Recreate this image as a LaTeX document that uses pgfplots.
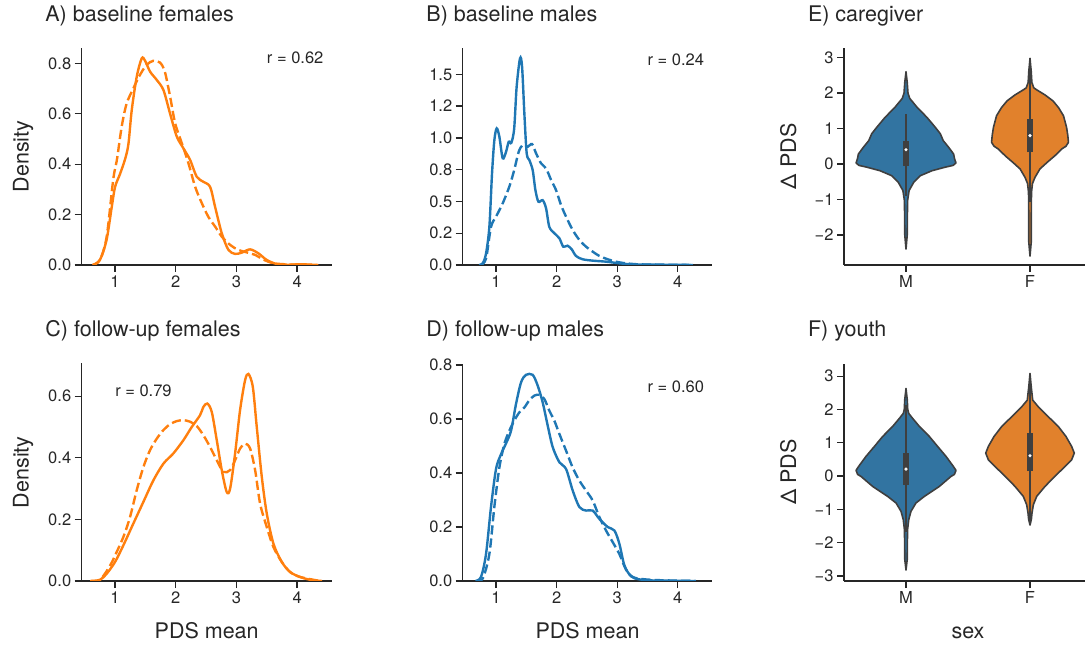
\documentclass[border=0pt]{standalone}
\usepackage{pgfplots}
\pgfplotsset{compat=1.18}
\usepackage{fontspec}
\setmainfont{TeX Gyre Heros}

\definecolor{txt}{HTML}{262626}
\definecolor{orgline}{HTML}{FF7F0E}
\definecolor{blueline}{HTML}{1F77B4}
\definecolor{vblue}{HTML}{3274A1}
\definecolor{vorange}{HTML}{E1812C}
\definecolor{vedge}{HTML}{3F3F3F}

\pgfplotsset{
  panel/.style={
    scale only axis, width=250bp, height=217.3bp,
    axis lines=left,
    axis line style={-, line width=1.3bp, draw=txt},
    x axis line style={-}, y axis line style={-},
    tick align=outside, major tick length=7bp,
    tick style={line width=1.3bp, draw=txt},
    every tick label/.append style={font=\fontsize{16.5bp}{18bp}\selectfont, text=txt},
    label style={font=\fontsize{21.5bp}{24bp}\selectfont, text=txt},
    title style={font=\fontsize{21.5bp}{24bp}\selectfont, text=txt,
      at={(axis description cs:-0.146,1.095)}, anchor=base west, inner sep=0pt},
    ylabel style={at={(axis description cs:-0.212,0.5)}, anchor=base, inner sep=0pt},
    xlabel style={at={(axis description cs:0.5,-0.263)}, anchor=base, inner sep=0pt},
  },
  dens/.style={panel, xmin=0.45, xmax=4.57, ymin=0,
    xtick={1,2,3,4}, xticklabels={1,2,3,4}},
  viol/.style={panel, width=248bp, xmin=-0.5, xmax=1.5,
    xtick={0,1}, xticklabels={M,F}, ylabel={Δ PDS},
    ylabel style={at={(axis description cs:-0.1935,0.5)}}},
  sol/.style={line width=2.4bp, smooth, tension=0.5},
  dsh/.style={line width=2.4bp, smooth, tension=0.5, dash pattern=on 9.2bp off 4bp},
  vbody/.style={draw=vedge, line width=1.6bp, line join=round},
  whisk/.style={vedge, line width=1.8bp},
  vbox/.style={vedge, line width=5.5bp},
  vmed/.style={only marks, mark=*, mark size=1.4bp, mark options={fill=white, draw=white}},
}
\newcommand{\rnote}{\fontsize{16.5bp}{18bp}\selectfont\color{txt}}

\begin{document}
\begin{tikzpicture}
\useasboundingbox (0bp,0bp) rectangle (1085bp,645bp);

% A) baseline females
\begin{axis}[dens, at={(81.7bp,380bp)}, anchor=south west, ymax=0.862,
  ytick={0,0.2,0.4,0.6,0.8}, yticklabels={0.0,0.2,0.4,0.6,0.8},
  title={A) baseline females}, ylabel={Density}]
\addplot[sol, orgline] coordinates {(0.63,0) (0.75,0.02) (0.86,0.1) (0.945,0.23) (1.0,0.31) (1.08,0.36) (1.165,0.42) (1.22,0.48) (1.275,0.615) (1.357,0.747) (1.44,0.82) (1.495,0.81) (1.577,0.767) (1.687,0.734) (1.797,0.694) (1.907,0.60) (2.016,0.51) (2.126,0.463) (2.236,0.417) (2.346,0.35) (2.456,0.33) (2.566,0.31) (2.648,0.231) (2.758,0.126) (2.868,0.06) (2.978,0.044) (3.088,0.049) (3.225,0.062) (3.363,0.046) (3.5,0.02) (3.665,0.004) (3.885,0.001) (4.05,0.003) (4.35,0)};
\addplot[dsh, orgline] coordinates {(0.63,0) (0.75,0.02) (0.86,0.11) (0.97,0.34) (1.03,0.417) (1.11,0.55) (1.19,0.64) (1.30,0.70) (1.41,0.754) (1.52,0.794) (1.63,0.81) (1.74,0.803) (1.82,0.767) (1.907,0.668) (1.99,0.562) (2.10,0.483) (2.21,0.403) (2.32,0.31) (2.43,0.245) (2.54,0.19) (2.65,0.152) (2.76,0.112) (2.90,0.079) (3.03,0.06) (3.17,0.05) (3.31,0.04) (3.44,0.022) (3.61,0.007) (3.88,0.002) (4.32,0)};
\node[anchor=base west, inner sep=0pt, font=\rnote] at (axis cs:3.5,0.80) {r = 0.62};
\end{axis}

% B) baseline males
\begin{axis}[dens, at={(462.7bp,380bp)}, anchor=south west, width=249.6bp, ymax=1.71,
  ytick={0,0.25,0.5,0.75,1,1.25,1.5}, yticklabels={0.0,0.2,0.5,0.8,1.0,1.2,1.5},
  title={B) baseline males}]
\addplot[sol, blueline] coordinates {(0.72,0) (0.78,0.013) (0.835,0.09) (0.89,0.30) (0.934,0.72) (0.972,0.98) (1.011,1.075) (1.055,1.01) (1.11,0.84) (1.165,0.89) (1.21,0.97) (1.253,0.962) (1.30,1.075) (1.34,1.40) (1.396,1.626) (1.43,1.56) (1.468,1.19) (1.506,0.88) (1.55,0.826) (1.605,0.747) (1.65,0.59) (1.70,0.498) (1.77,0.51) (1.826,0.446) (1.88,0.30) (1.963,0.25) (2.046,0.21) (2.11,0.144) (2.18,0.152) (2.25,0.123) (2.32,0.071) (2.43,0.045) (2.6,0.034) (2.82,0.026) (3.04,0.013) (3.26,0.005) (3.70,0.002) (4.25,0)};
\addplot[dsh, blueline] coordinates {(0.75,0) (0.835,0.05) (0.917,0.30) (1.0,0.38) (1.11,0.485) (1.22,0.617) (1.30,0.747) (1.374,0.89) (1.44,0.944) (1.523,0.93) (1.594,0.952) (1.66,0.88) (1.743,0.80) (1.826,0.76) (1.908,0.67) (1.99,0.59) (2.073,0.472) (2.156,0.38) (2.266,0.275) (2.376,0.197) (2.486,0.144) (2.596,0.105) (2.706,0.071) (2.844,0.045) (2.98,0.026) (3.146,0.013) (3.366,0.005) (3.70,0.003) (4.25,0)};
\node[anchor=base west, inner sep=0pt, font=\rnote] at (axis cs:3.5,1.568) {r = 0.24};
\end{axis}

% E) caregiver
\begin{axis}[viol, at={(844bp,380bp)}, anchor=south west, ymin=-2.85, ymax=3.28,
  ytick={-2,-1,0,1,2,3}, yticklabels={−2,−1,0,1,2,3},
  title={E) caregiver}]
\addplot[vbody, fill=vblue] coordinates {(0.000,2.60) (0.010,2.30) (0.016,2.00) (0.030,1.85) (0.089,1.60) (0.170,1.31) (0.237,1.03) (0.277,0.85) (0.300,0.66) (0.344,0.47) (0.384,0.28) (0.392,0.14) (0.403,0.03) (0.380,-0.04) (0.317,-0.09) (0.210,-0.19) (0.116,-0.33) (0.062,-0.52) (0.025,-0.75) (0.013,-1.03) (0.011,-1.50) (0.010,-2.00) (0,-2.40) (-0.010,-2.00) (-0.011,-1.50) (-0.013,-1.03) (-0.025,-0.75) (-0.062,-0.52) (-0.116,-0.33) (-0.210,-0.19) (-0.317,-0.09) (-0.380,-0.04) (-0.403,0.03) (-0.392,0.14) (-0.384,0.28) (-0.344,0.47) (-0.300,0.66) (-0.277,0.85) (-0.237,1.03) (-0.170,1.31) (-0.089,1.60) (-0.030,1.85) (-0.016,2.00) (-0.010,2.30)} -- cycle;
\addplot[whisk] coordinates {(0,-0.90) (0,1.41)};
\addplot[vbox] coordinates {(0,-0.05) (0,0.66)};
\addplot[vmed] coordinates {(0,0.40)};
\addplot[vbody, fill=vorange] coordinates {(1.000,2.98) (1.010,2.60) (1.015,2.30) (1.030,2.15) (1.050,2.10) (1.120,1.95) (1.185,1.78) (1.230,1.59) (1.270,1.36) (1.295,1.03) (1.305,0.80) (1.310,0.61) (1.290,0.50) (1.255,0.42) (1.200,0.23) (1.140,0.05) (1.080,-0.14) (1.040,-0.38) (1.020,-0.55) (1.012,-0.80) (1.010,-1.50) (1.010,-2.20) (1.000,-2.60) (0.990,-2.20) (0.990,-1.50) (0.988,-0.80) (0.980,-0.55) (0.960,-0.38) (0.920,-0.14) (0.860,0.05) (0.800,0.23) (0.745,0.42) (0.710,0.50) (0.690,0.61) (0.695,0.80) (0.705,1.03) (0.730,1.36) (0.770,1.59) (0.815,1.78) (0.880,1.95) (0.950,2.10) (0.970,2.15) (0.985,2.30) (0.990,2.60)} -- cycle;
\addplot[whisk] coordinates {(1,-1.08) (1,2.68)};
\addplot[vbox] coordinates {(1,0.33) (1,1.27)};
\addplot[vmed] coordinates {(1,0.80)};
\end{axis}

% C) follow-up females
\begin{axis}[dens, at={(81.7bp,64bp)}, anchor=south west, height=217.5bp, ymax=0.706,
  ytick={0,0.2,0.4,0.6}, yticklabels={0.0,0.2,0.4,0.6},
  title={C) follow-up females}, ylabel={Density}, xlabel={PDS mean}]
\addplot[sol, orgline] coordinates {(0.59,0) (0.753,0.004) (0.863,0.024) (1.0,0.062) (1.137,0.116) (1.30,0.186) (1.467,0.257) (1.632,0.327) (1.797,0.381) (1.96,0.414) (2.126,0.457) (2.264,0.50) (2.40,0.538) (2.456,0.565) (2.52,0.576) (2.593,0.549) (2.676,0.457) (2.758,0.36) (2.84,0.289) (2.896,0.30) (2.978,0.414) (3.06,0.555) (3.143,0.652) (3.198,0.672) (3.27,0.63) (3.335,0.50) (3.418,0.338) (3.50,0.219) (3.61,0.121) (3.747,0.062) (3.885,0.029) (4.05,0.013) (4.214,0.004) (4.41,0)};
\addplot[dsh, orgline] coordinates {(0.6,0) (0.753,0.004) (0.918,0.05) (1.0,0.083) (1.137,0.143) (1.247,0.208) (1.357,0.295) (1.467,0.37) (1.577,0.425) (1.687,0.462) (1.797,0.49) (1.907,0.509) (2.016,0.519) (2.126,0.522) (2.236,0.517) (2.346,0.503) (2.456,0.473) (2.566,0.435) (2.676,0.392) (2.786,0.354) (2.896,0.36) (2.978,0.392) (3.06,0.43) (3.143,0.446) (3.225,0.43) (3.308,0.36) (3.39,0.251) (3.50,0.175) (3.61,0.11) (3.747,0.062) (3.885,0.029) (4.05,0.013) (4.38,0)};
\node[anchor=base west, inner sep=0pt, font=\rnote] at (axis cs:1.0,0.60) {r = 0.79};
\end{axis}

% D) follow-up males
\begin{axis}[dens, at={(462.7bp,64bp)}, anchor=south west, width=249.6bp, height=217.5bp, ymax=0.806,
  ytick={0,0.2,0.4,0.6,0.8}, yticklabels={0.0,0.2,0.4,0.6,0.8},
  title={D) follow-up males}, xlabel={PDS mean}]
\addplot[sol, blueline] coordinates {(0.66,0) (0.752,0.015) (0.835,0.10) (0.917,0.274) (1.0,0.415) (1.083,0.47) (1.165,0.51) (1.248,0.557) (1.33,0.656) (1.413,0.736) (1.495,0.764) (1.605,0.764) (1.688,0.724) (1.77,0.662) (1.853,0.576) (1.936,0.496) (2.046,0.44) (2.156,0.415) (2.266,0.335) (2.376,0.274) (2.486,0.261) (2.596,0.261) (2.706,0.23) (2.844,0.20) (2.954,0.187) (3.036,0.138) (3.119,0.058) (3.23,0.017) (3.366,0.006) (3.586,0.002) (4.3,0)};
\addplot[dsh, blueline] coordinates {(0.67,0) (0.78,0.009) (0.89,0.10) (0.972,0.274) (1.055,0.42) (1.138,0.508) (1.22,0.557) (1.30,0.594) (1.385,0.625) (1.468,0.643) (1.55,0.67) (1.633,0.687) (1.716,0.69) (1.798,0.674) (1.88,0.631) (1.963,0.594) (2.046,0.545) (2.156,0.483) (2.266,0.42) (2.376,0.372) (2.486,0.335) (2.596,0.298) (2.706,0.237) (2.816,0.187) (2.926,0.144) (3.036,0.10) (3.146,0.042) (3.257,0.015) (3.42,0.007) (3.70,0.003) (4.3,0)};
\node[anchor=base west, inner sep=0pt, font=\rnote] at (axis cs:3.5,0.70) {r = 0.60};
\end{axis}

% F) youth
\begin{axis}[viol, at={(844bp,64bp)}, anchor=south west, height=217.5bp, ymin=-3.15, ymax=3.38,
  ytick={-3,-2,-1,0,1,2,3}, yticklabels={−3,−2,−1,0,1,2,3},
  title={F) youth}, xlabel={sex}]
\addplot[vbody, fill=vblue] coordinates {(0.000,2.63) (0.010,2.30) (0.014,2.00) (0.022,1.88) (0.054,1.73) (0.108,1.49) (0.188,1.19) (0.255,0.89) (0.323,0.59) (0.382,0.29) (0.403,0.17) (0.390,0.05) (0.363,-0.01) (0.269,-0.31) (0.148,-0.61) (0.080,-0.81) (0.040,-1.06) (0.022,-1.31) (0.013,-1.60) (0.011,-2.00) (0.010,-2.50) (0,-2.82) (-0.010,-2.50) (-0.011,-2.00) (-0.013,-1.60) (-0.022,-1.31) (-0.040,-1.06) (-0.080,-0.81) (-0.148,-0.61) (-0.269,-0.31) (-0.363,-0.01) (-0.390,0.05) (-0.403,0.17) (-0.382,0.29) (-0.323,0.59) (-0.255,0.89) (-0.188,1.19) (-0.108,1.49) (-0.054,1.73) (-0.022,1.88) (-0.014,2.00) (-0.010,2.30)} -- cycle;
\addplot[whisk] coordinates {(0,-1.69) (0,2.12)};
\addplot[vbox] coordinates {(0,-0.26) (0,0.69)};
\addplot[vmed] coordinates {(0,0.21)};
\addplot[vbody, fill=vorange] coordinates {(1.000,3.08) (1.010,2.68) (1.022,2.28) (1.067,2.08) (1.148,1.78) (1.228,1.49) (1.290,1.19) (1.336,0.89) (1.357,0.69) (1.336,0.49) (1.269,0.24) (1.200,-0.01) (1.121,-0.31) (1.054,-0.61) (1.027,-0.86) (1.016,-1.11) (1.011,-1.30) (1.000,-1.47) (0.989,-1.30) (0.984,-1.11) (0.973,-0.86) (0.946,-0.61) (0.879,-0.31) (0.800,-0.01) (0.731,0.24) (0.664,0.49) (0.643,0.69) (0.664,0.89) (0.710,1.19) (0.772,1.49) (0.852,1.78) (0.933,2.08) (0.978,2.28) (0.990,2.68)} -- cycle;
\addplot[whisk] coordinates {(1,-1.46) (1,3.00)};
\addplot[vbox] coordinates {(1,0.14) (1,1.29)};
\addplot[vmed] coordinates {(1,0.61)};
\end{axis}
\end{tikzpicture}
\end{document}
